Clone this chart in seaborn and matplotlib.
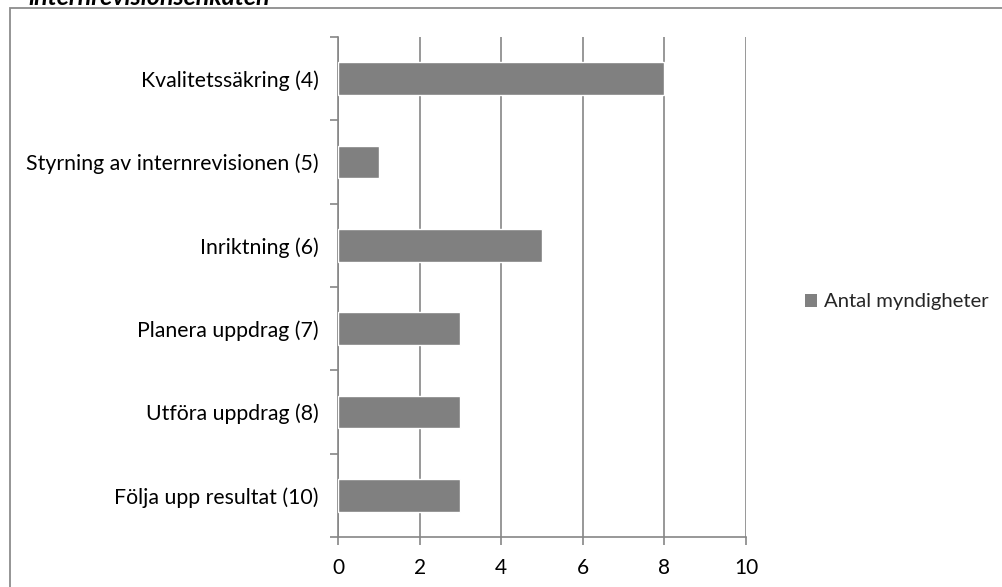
import matplotlib
matplotlib.use("Agg")
import matplotlib.pyplot as plt
from matplotlib.patches import Rectangle, Patch
import seaborn as sns
import pandas as pd
import numpy as np

categories = [
    "Kvalitetssäkring (4)",
    "Styrning av internrevisionen (5)",
    "Inriktning (6)",
    "Planera uppdrag (7)",
    "Utföra uppdrag (8)",
    "Följa upp resultat (10)",
]
values = [8, 1, 5, 3, 3, 3]
series_name = "Antal myndigheter"
x_ticks = [0, 2, 4, 6, 8, 10]
title_text = "internrevisionsenkäten"

sns.set_theme(style="white")
plt.rcParams["font.family"] = ["Lato", "DejaVu Sans"]

df = pd.DataFrame({"Kategori": categories, "Antal": values})

W, H = 1002, 587
fig = plt.figure(figsize=(W / 100, H / 100), dpi=100)
ax = fig.add_axes([338 / W, 1 - 537 / H, (746 - 338) / W, (537 - 37) / H])

bar_color = "#808080"
axis_color = "#868686"

sns.barplot(data=df, x="Antal", y="Kategori", orient="h", color=bar_color,
            width=0.39, saturation=1, ax=ax, zorder=3)

ax.set_xlim(0, 10)
ax.set_ylim(len(categories) - 0.5, -0.5)
ax.set_xlabel("")
ax.set_ylabel("")

# vertical gridlines
ax.set_xticks(x_ticks)
ax.set_xticklabels([str(t) for t in x_ticks])
ax.grid(axis="x", color=axis_color, linewidth=1.2, zorder=0)
ax.grid(axis="y", visible=False)
ax.set_axisbelow(True)

for side in ["top", "right"]:
    ax.spines[side].set_visible(False)
for side in ["left", "bottom"]:
    ax.spines[side].set_color(axis_color)
    ax.spines[side].set_linewidth(1.2)

# category separators as minor ticks on the value-axis side
ax.set_yticks(np.arange(-0.5, len(categories), 1.0), minor=True)
ax.tick_params(axis="y", which="minor", left=True, length=6, width=1.2,
               color=axis_color)
ax.tick_params(axis="y", which="major", left=False, length=0, pad=14,
               labelsize=15.3, labelcolor="black")
ax.tick_params(axis="x", which="major", bottom=True, length=6, width=1.2,
               color=axis_color, pad=9, labelsize=15, labelcolor="black")

# legend
handle = Patch(facecolor=bar_color, edgecolor="none", label=series_name)
fig.legend(handles=[handle], loc="center left",
           bbox_to_anchor=(797 / W, 1 - 302 / H), frameon=False,
           fontsize=14.6, handlelength=0.6, handleheight=0.6,
           handletextpad=0.35, borderaxespad=0)

# outer chart frame
frame = Rectangle((10 / W, -0.05), 1.1, 1 - 8 / H + 0.05,
                  transform=fig.transFigure, fill=False,
                  edgecolor="#8c8c8c", linewidth=1.3)
fig.patches.append(frame)

# heading above the chart frame
fig.text(0.028, 1 - 5 / H, title_text, ha="left", va="baseline",
         fontsize=18, fontweight="bold", fontstyle="italic", color="black")

fig.savefig("out.png", dpi=100, facecolor="white")
